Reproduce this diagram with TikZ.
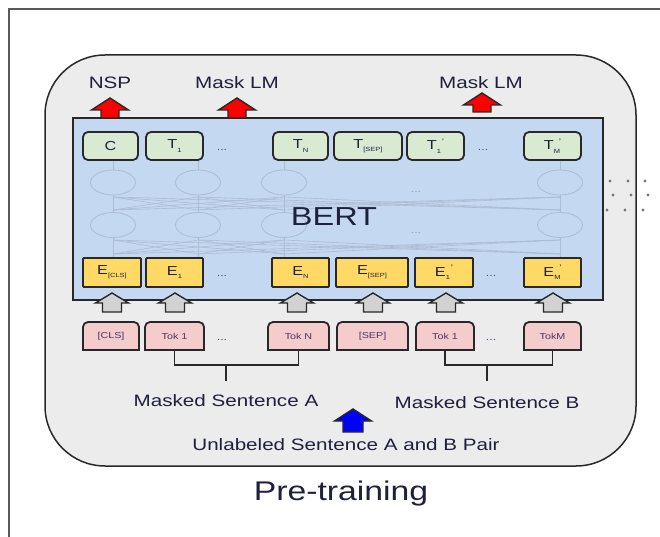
\documentclass[tikz,border=0pt]{standalone}
\usepackage{fontspec}
\setmainfont{Liberation Sans}[FakeStretch=1.25]
\definecolor{bgfill}{RGB}{236,236,236}
\definecolor{bertblue}{RGB}{197,216,242}
\definecolor{tgreen}{RGB}{217,234,211}
\definecolor{eyellow}{RGB}{255,217,102}
\definecolor{tpink}{RGB}{244,204,204}
\definecolor{linec}{RGB}{40,40,40}
\definecolor{txt}{RGB}{30,32,60}
\definecolor{toktxt}{RGB}{70,55,100}
\definecolor{dotc}{RGB}{70,80,130}
\definecolor{faint}{RGB}{172,188,210}
\definecolor{faintdot}{RGB}{150,165,195}
\definecolor{arrowgray}{RGB}{210,210,210}
\definecolor{framegray}{RGB}{90,90,90}
\definecolor{dotgray}{RGB}{120,120,120}
\definecolor{arrowred}{RGB}{255,0,0}
\definecolor{arrowblue}{RGB}{0,0,255}
\newcommand\lsub[1]{\raisebox{-0.45ex}{\fontsize{6}{6}\selectfont #1}}
\newcommand\lsubp[1]{\makebox[0pt][l]{\raisebox{-0.45ex}{\fontsize{6}{6}\selectfont #1}}\raisebox{0.8ex}{\fontsize{8}{8}\selectfont\hspace{5pt}'}}
\begin{document}
\begin{tikzpicture}[x=1pt,y=-1pt,
  bertbox/.style={draw=linec, line width=2, fill=bertblue, inner sep=0},
  tnode/.style={draw=linec, line width=1.8, fill=tgreen, rounded corners=5, minimum height=28, inner sep=0, font=\fontsize{13}{13}\selectfont, text=txt},
  enode/.style={draw=linec, line width=1.8, fill=eyellow, rounded corners=1, minimum height=29, inner sep=0, font=\fontsize{13}{13}\selectfont, text=txt},
  toknode/.style={minimum height=28, inner sep=0, outer sep=0, font=\fontsize{8.6}{9}\selectfont, text=toktxt},
  tokline/.style={draw=linec, line width=1.8, fill=tpink},
  lbl/.style={font=\fontsize{16.5}{17}\selectfont, text=txt, anchor=base, inner sep=0},
  dotsnode/.style={font=\fontsize{10}{10}\selectfont, text=dotc, inner sep=0},
  faintdots/.style={font=\fontsize{10}{10}\selectfont, text=faintdot, inner sep=0},
  brk/.style={draw=linec, line width=1.8},
  fan/.style={draw=faint, line width=0.6},
  ell/.style={draw=faint, line width=0.8, fill=bertblue},
  redarrow/.style={fill=arrowred, draw=linec, line width=1.4, line join=miter},
  grayarrow/.style={fill=arrowgray, draw=linec, line width=1.4, line join=miter},
  bluearrow/.style={fill=arrowblue, draw=linec, line width=1.4, line join=miter},
  pics/barrow/.style n args={4}{code={\draw[pic actions] (0,0) -- (#1,#3) -- (#2,#3) -- (#2,#4) -- (-#2,#4) -- (-#2,#3) -- (-#1,#3) -- cycle;}}
]
\useasboundingbox (0,0) rectangle (660,537);
\fill[white] (0,0) rectangle (660,537);
% outer frame
\draw[framegray, line width=1.5] (9,537) -- (9,9) -- (660,9);
% rounded background
\draw[draw=linec, line width=1.5, fill=bgfill, rounded corners=60] (45,55) rectangle (636,466);
% BERT box
\node[bertbox, minimum width=530, minimum height=182] (bert) at (338,209) {};
% fan lines and ellipses
\foreach \a in {113,198,284,560}{
  \draw[fan] (\a,160) -- (\a,170);
  \draw[fan] (\a,195) -- (\a,212.5);
  \draw[fan] (\a,237.5) -- (\a,258);
  \foreach \b in {113,198,284,560}{
    \draw[fan] (\a,197) -- (\b,210);
    \draw[fan] (\a,240) -- (\b,254);
  }
}
\foreach \a in {113,198,284,560}{
  \draw[ell] (\a,182.5) ellipse [x radius=22.5, y radius=12.5];
  \draw[ell] (\a,225) ellipse [x radius=22.5, y radius=12.5];
}
\node[faintdots] (fd1) at (416,192) {...};
\node[faintdots] (fd2) at (416,233) {...};
\node[lbl, font=\fontsize{26}{26}\selectfont] (berttxt) at (334,225) {BERT};
% T row
\node[tnode, minimum width=55] (tC) at (110.5,146) {C};
\node[tnode, minimum width=57] (t1) at (174.5,146) {T\lsub{1}};
\node[dotsnode] (tdA) at (222,150) {...};
\node[tnode, minimum width=55] (tN) at (300.5,146) {T\lsub{N}};
\node[tnode, minimum width=68] (tsep) at (368,146) {T\lsub{[SEP]}};
\node[tnode, minimum width=57] (t1b) at (435.5,146) {T\lsubp{1}};
\node[dotsnode] (tdB) at (483,150) {...};
\node[tnode, minimum width=57] (tM) at (552.5,146) {T\lsubp{M}};
% E row
\node[enode, minimum width=58] (eC) at (112,272.5) {E\lsub{[CLS]}};
\node[enode, minimum width=57] (e1) at (174.5,272.5) {E\lsub{1}};
\node[dotsnode] (edA) at (222,276) {...};
\node[enode, minimum width=57] (eN) at (300.5,272.5) {E\lsub{N}};
\node[enode, minimum width=72] (esep) at (372,272.5) {E\lsub{[SEP]}};
\node[enode, minimum width=58] (e1b) at (444,272.5) {E\lsubp{1}};
\node[dotsnode] (edB) at (491,276) {...};
\node[enode, minimum width=57] (eM) at (552.5,272.5) {E\lsubp{M}};
% red arrows
\pic[redarrow] (aNSP) at (110,98) {barrow={18.5}{9}{12}{20}};
\pic[redarrow] (aLMA) at (237,98) {barrow={18.5}{9}{12}{20}};
\pic[redarrow] (aLMB) at (482,93) {barrow={18.5}{9}{12}{19}};
% gray arrows
\foreach \x [count=\i] in {112,175,297,373,446,553}{
  \pic[grayarrow] (ag\i) at (\x,293) {barrow={16.5}{9.5}{10}{19}};
}
% Tok row
\foreach \n/\x/\w/\t in {kC/111/56/{[CLS]}, k1/174.5/59/{Tok 1}, kN/298.5/61/{Tok N}, ksep/372.5/71/{[SEP]}, k1b/445/58/{Tok 1}, kM/552.5/57/{TokM}}{
  \path[tokline] ({\x-\w/2},350) -- ({\x-\w/2},327) arc[start angle=180, end angle=270, radius=5]
     -- ({\x+\w/2-5},322) arc[start angle=270, end angle=360, radius=5] -- ({\x+\w/2},350) -- cycle;
  \node[toknode, minimum width=\w] (\n) at (\x,336) {\t};
}
\node[dotsnode] (kdA) at (222,340) {...};
\node[dotsnode] (kdB) at (491,340) {...};
% brackets
\draw[brk] (k1.south) -- ++(0,15) -| (kN.south);
\coordinate (brA) at (226,365);
\coordinate (brAend) at (226,381);
\draw[brk] (brA) -- (brAend);
\draw[brk] (k1b.south) -- ++(0,15) -| (kM.south);
\coordinate (brB) at (487,365);
\coordinate (brBend) at (487,381);
\draw[brk] (brB) -- (brBend);
% blue arrow
\pic[bluearrow] (aBlue) at (353,409) {barrow={18.5}{10}{12}{23}};
% labels
\node[lbl] (nsp) at (110,89) {NSP};
\node[lbl] (mlmA) at (237,89) {Mask LM};
\node[lbl] (mlmB) at (481,89) {Mask LM};
\node[lbl] (msA) at (226,406) {Masked Sentence A};
\node[lbl] (msB) at (487,408) {Masked Sentence B};
\node[lbl] (unl) at (346,450) {Unlabeled Sentence A and B Pair};
\node[lbl, font=\fontsize{27}{27}\selectfont] (pre) at (341,500) {Pre-training};
% neighbour panel dots
\foreach \x/\y in {610/181,628/181,645/181,613/195,631/195,648/195,607/210,625/210,643/210}{
  \fill[dotgray] (\x,\y) circle[radius=1.6];
}
\end{tikzpicture}
\end{document}
